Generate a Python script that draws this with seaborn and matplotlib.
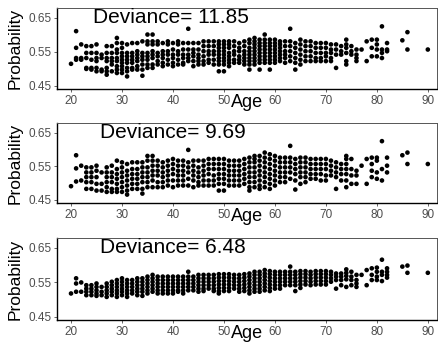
import matplotlib
matplotlib.use("Agg")
import matplotlib.pyplot as plt
import seaborn as sns
import pandas as pd

# ---- data -------------------------------------------------------------
ages = list(range(20, 83)) + [85, 86, 90]

deviances = ["11.85", "9.69", "6.48"]
x_ticks = [20, 30, 40, 50, 60, 70, 80, 90]
y_ticks = [0.45, 0.55, 0.65]
y_tick_labels = ["0.45", "0.55", "0.65"]

# predicted probabilities per age (one inner list per age), model 1
prob_model1 = [
    [0.515],                                                         # 20
    [0.611, 0.562, 0.532, 0.527],                                    # 21
    [0.572, 0.532, 0.527],                                           # 22
    [0.567, 0.547, 0.532, 0.503, 0.500],                             # 23
    [0.567, 0.547, 0.527, 0.503, 0.498],                             # 24
    [0.572, 0.547, 0.532, 0.523, 0.503, 0.493],                      # 25
    [0.542, 0.532, 0.498, 0.493],                                    # 26
    [0.567, 0.547, 0.532, 0.523, 0.503, 0.493, 0.483],               # 27
    [0.567, 0.547, 0.532, 0.523, 0.513, 0.493],                      # 28
    [0.591, 0.576, 0.557, 0.547, 0.532, 0.523, 0.508, 0.498, 0.488], # 29
    [0.576, 0.562, 0.547, 0.537, 0.527, 0.518, 0.508, 0.498, 0.488], # 30
    [0.572, 0.547, 0.537, 0.527, 0.518, 0.503, 0.493, 0.478],        # 31
    [0.576, 0.547, 0.537, 0.527, 0.518, 0.503, 0.498],               # 32
    [0.576, 0.552, 0.542, 0.532, 0.523, 0.508, 0.498],               # 33
    [0.581, 0.547, 0.537, 0.527, 0.513, 0.498, 0.480],               # 34
    [0.601, 0.581, 0.572, 0.547, 0.537, 0.527, 0.513, 0.503],        # 35
    [0.601, 0.581, 0.572, 0.552, 0.542, 0.532, 0.513, 0.503],        # 36
    [0.581, 0.572, 0.547, 0.537, 0.523, 0.513],                      # 37
    [0.576, 0.552, 0.542, 0.532, 0.518, 0.508],                      # 38
    [0.581, 0.572, 0.552, 0.542, 0.527, 0.513],                      # 39
    [0.576, 0.557, 0.542, 0.532, 0.518, 0.508],                      # 40
    [0.581, 0.572, 0.552, 0.542, 0.527, 0.513],                      # 41
    [0.576, 0.557, 0.542, 0.532, 0.518, 0.513],                      # 42
    [0.618, 0.576, 0.557, 0.542, 0.532, 0.523],                      # 43
    [0.576, 0.557, 0.547, 0.537, 0.523, 0.508],                      # 44
    [0.576, 0.557, 0.542, 0.532, 0.523, 0.513],                      # 45
    [0.581, 0.567, 0.552, 0.537, 0.523, 0.513],                      # 46
    [0.581, 0.567, 0.552, 0.542, 0.527, 0.518],                      # 47
    [0.581, 0.567, 0.552, 0.542, 0.527, 0.513],                      # 48
    [0.581, 0.572, 0.562, 0.552, 0.542, 0.532, 0.523, 0.513, 0.493], # 49
    [0.581, 0.572, 0.562, 0.552, 0.542, 0.532, 0.523, 0.513, 0.493], # 50
    [0.581, 0.572, 0.562, 0.547, 0.537, 0.527, 0.518, 0.508],        # 51
    [0.581, 0.567, 0.552, 0.542, 0.527, 0.518],                      # 52
    [0.576, 0.562, 0.552, 0.537, 0.527, 0.518],                      # 53
    [0.581, 0.567, 0.552, 0.542, 0.532, 0.523, 0.513],               # 54
    [0.586, 0.576, 0.562, 0.552, 0.542, 0.532, 0.523, 0.513, 0.498], # 55
    [0.591, 0.581, 0.572, 0.562, 0.552, 0.542, 0.532, 0.523, 0.513], # 56
    [0.586, 0.576, 0.567, 0.557, 0.547, 0.537, 0.527, 0.518, 0.498], # 57
    [0.601, 0.586, 0.576, 0.567, 0.557, 0.547, 0.537, 0.527, 0.518], # 58
    [0.586, 0.576, 0.567, 0.557, 0.547, 0.537, 0.527, 0.518, 0.498], # 59
    [0.586, 0.576, 0.567, 0.557, 0.547, 0.537, 0.527, 0.518],        # 60
    [0.581, 0.572, 0.562, 0.552, 0.542, 0.532, 0.523],               # 61
    [0.581, 0.567, 0.552, 0.542, 0.532, 0.518],                      # 62
    [0.618, 0.581, 0.567, 0.552, 0.537, 0.523],                      # 63
    [0.576, 0.562, 0.547, 0.532, 0.518, 0.498],                      # 64
    [0.586, 0.572, 0.557, 0.542, 0.527, 0.513],                      # 65
    [0.581, 0.567, 0.552, 0.537, 0.523],                             # 66
    [0.581, 0.567, 0.552, 0.537, 0.523],                             # 67
    [0.576, 0.562, 0.547, 0.532, 0.523],                             # 68
    [0.576, 0.562, 0.547, 0.532, 0.523],                             # 69
    [0.576, 0.562, 0.547, 0.537, 0.523],                             # 70
    [0.572, 0.557, 0.547, 0.532, 0.523],                             # 71
    [0.572, 0.557, 0.542, 0.503],                                    # 72
    [0.567, 0.552, 0.542],                                           # 73
    [0.586, 0.572, 0.562, 0.547, 0.523, 0.513],                      # 74
    [0.567, 0.552, 0.542],                                           # 75
    [0.557, 0.542, 0.532, 0.523],                                    # 76
    [0.557],                                                         # 77
    [0.581, 0.523],                                                  # 78
    [0.586, 0.562, 0.537],                                           # 79
    [0.586, 0.572, 0.557, 0.537],                                    # 80
    [0.625, 0.557, 0.547, 0.532],                                    # 81
    [0.576, 0.557, 0.552],                                           # 82
    [0.584],                                                         # 85
    [0.608, 0.557],                                                  # 86
    [0.557],                                                         # 90
]

# model 2
prob_model2 = [
    [0.491],                                                         # 20
    [0.583, 0.544, 0.505],                                           # 21
    [0.552, 0.508],                                                  # 22
    [0.547, 0.532, 0.518, 0.503, 0.483],                             # 23
    [0.547, 0.532, 0.518, 0.503, 0.483],                             # 24
    [0.552, 0.537, 0.518, 0.498, 0.478],                             # 25
    [0.532, 0.498, 0.478],                                           # 26
    [0.547, 0.532, 0.518, 0.503, 0.488, 0.474],                      # 27
    [0.552, 0.532, 0.518, 0.503, 0.483, 0.474],                      # 28
    [0.567, 0.542, 0.527, 0.513, 0.498, 0.483, 0.474],               # 29
    [0.562, 0.547, 0.532, 0.518, 0.503, 0.488, 0.474],               # 30
    [0.557, 0.537, 0.523, 0.508, 0.493, 0.478, 0.466],               # 31
    [0.562, 0.542, 0.527, 0.513, 0.498, 0.483],                      # 32
    [0.562, 0.542, 0.527, 0.513, 0.498, 0.483],                      # 33
    [0.562, 0.547, 0.532, 0.518, 0.503, 0.483, 0.469],               # 34
    [0.581, 0.567, 0.547, 0.532, 0.518, 0.503, 0.488],               # 35
    [0.581, 0.567, 0.552, 0.537, 0.523, 0.508, 0.488],               # 36
    [0.567, 0.552, 0.537, 0.523, 0.503, 0.488],                      # 37
    [0.562, 0.547, 0.532, 0.518, 0.503, 0.488],                      # 38
    [0.567, 0.552, 0.537, 0.523, 0.508, 0.493],                      # 39
    [0.572, 0.557, 0.542, 0.527, 0.508, 0.488],                      # 40
    [0.567, 0.552, 0.537, 0.523, 0.508, 0.493],                      # 41
    [0.567, 0.552, 0.537, 0.523, 0.508, 0.493],                      # 42
    [0.599, 0.562, 0.547, 0.532, 0.513, 0.493],                      # 43
    [0.567, 0.552, 0.537, 0.523, 0.508, 0.488],                      # 44
    [0.567, 0.547, 0.532, 0.518, 0.503, 0.493],                      # 45
    [0.567, 0.552, 0.537, 0.523, 0.508, 0.493],                      # 46
    [0.572, 0.557, 0.542, 0.527, 0.508, 0.493],                      # 47
    [0.572, 0.557, 0.542, 0.523, 0.508, 0.493],                      # 48
    [0.572, 0.557, 0.542, 0.527, 0.513, 0.498, 0.478],               # 49
    [0.572, 0.557, 0.542, 0.527, 0.513, 0.498, 0.478],               # 50
    [0.567, 0.552, 0.537, 0.523, 0.508, 0.493],                      # 51
    [0.567, 0.552, 0.537, 0.523, 0.508, 0.493],                      # 52
    [0.567, 0.552, 0.537, 0.523, 0.508, 0.493],                      # 53
    [0.572, 0.557, 0.542, 0.527, 0.513, 0.498],                      # 54
    [0.576, 0.562, 0.547, 0.532, 0.518, 0.503, 0.488, 0.478],        # 55
    [0.581, 0.572, 0.562, 0.547, 0.532, 0.518, 0.503, 0.488],        # 56
    [0.581, 0.567, 0.552, 0.537, 0.523, 0.508, 0.493, 0.483],        # 57
    [0.591, 0.576, 0.562, 0.547, 0.532, 0.518, 0.503, 0.488],        # 58
    [0.586, 0.572, 0.557, 0.542, 0.527, 0.513, 0.498, 0.483],        # 59
    [0.581, 0.567, 0.552, 0.537, 0.523, 0.508, 0.493],               # 60
    [0.576, 0.562, 0.547, 0.532, 0.518, 0.503],                      # 61
    [0.576, 0.562, 0.547, 0.532, 0.518, 0.503],                      # 62
    [0.611, 0.576, 0.562, 0.547, 0.532, 0.513],                      # 63
    [0.572, 0.557, 0.542, 0.527, 0.508, 0.481],                      # 64
    [0.576, 0.562, 0.547, 0.532, 0.518, 0.498],                      # 65
    [0.576, 0.562, 0.547, 0.532, 0.518, 0.503],                      # 66
    [0.572, 0.557, 0.542, 0.527, 0.513],                             # 67
    [0.572, 0.557, 0.542, 0.527, 0.513],                             # 68
    [0.572, 0.557, 0.542, 0.527, 0.508],                             # 69
    [0.572, 0.557, 0.542, 0.523, 0.508],                             # 70
    [0.567, 0.552, 0.537, 0.523],                                    # 71
    [0.562, 0.547, 0.532, 0.518, 0.483],                             # 72
    [0.557, 0.542, 0.527, 0.508],                                    # 73
    [0.581, 0.572, 0.557, 0.542, 0.527, 0.508, 0.488],               # 74
    [0.572, 0.542, 0.523, 0.498],                                    # 75
    [0.537, 0.523, 0.498],                                           # 76
    [0.552],                                                         # 77
    [0.572, 0.498],                                                  # 78
    [0.576, 0.557, 0.537, 0.518],                                    # 79
    [0.576, 0.567, 0.532, 0.513],                                    # 80
    [0.625, 0.542, 0.508],                                           # 81
    [0.576, 0.552, 0.532],                                           # 82
    [0.583],                                                         # 85
    [0.591, 0.557],                                                  # 86
    [0.557],                                                         # 90
]

# model 3
prob_model3 = [
    [0.518],                                                         # 20
    [0.562, 0.547, 0.523],                                           # 21
    [0.550, 0.523],                                                  # 22
    [0.542, 0.532, 0.523, 0.513],                                    # 23
    [0.542, 0.532, 0.523, 0.513],                                    # 24
    [0.547, 0.537, 0.527, 0.518, 0.511],                             # 25
    [0.537, 0.523, 0.513],                                           # 26
    [0.547, 0.537, 0.527, 0.518, 0.508],                             # 27
    [0.552, 0.542, 0.532, 0.523, 0.513],                             # 28
    [0.557, 0.547, 0.537, 0.527, 0.518, 0.508],                      # 29
    [0.562, 0.552, 0.542, 0.532, 0.523, 0.513],                      # 30
    [0.557, 0.547, 0.537, 0.527, 0.518, 0.508],                      # 31
    [0.557, 0.547, 0.537, 0.527, 0.518],                             # 32
    [0.562, 0.552, 0.542, 0.532, 0.523, 0.513],                      # 33
    [0.562, 0.552, 0.542, 0.532, 0.523, 0.511],                      # 34
    [0.567, 0.557, 0.547, 0.537, 0.527, 0.518],                      # 35
    [0.572, 0.562, 0.552, 0.542, 0.532, 0.523],                      # 36
    [0.567, 0.557, 0.547, 0.537, 0.527, 0.518],                      # 37
    [0.567, 0.557, 0.547, 0.537, 0.527, 0.518],                      # 38
    [0.567, 0.557, 0.547, 0.537, 0.527, 0.518],                      # 39
    [0.567, 0.557, 0.547, 0.537, 0.527, 0.518],                      # 40
    [0.567, 0.557, 0.547, 0.537, 0.527, 0.523],                      # 41
    [0.567, 0.557, 0.547, 0.537, 0.527, 0.518],                      # 42
    [0.581, 0.567, 0.557, 0.547, 0.537, 0.527],                      # 43
    [0.567, 0.557, 0.547, 0.537, 0.527],                             # 44
    [0.572, 0.562, 0.552, 0.542, 0.532, 0.523],                      # 45
    [0.572, 0.562, 0.552, 0.542, 0.532, 0.525],                      # 46
    [0.572, 0.562, 0.552, 0.542, 0.532],                             # 47
    [0.572, 0.562, 0.552, 0.542, 0.532, 0.525],                      # 48
    [0.574, 0.564, 0.554, 0.544, 0.534, 0.525, 0.518],               # 49
    [0.574, 0.564, 0.554, 0.544, 0.534, 0.525],                      # 50
    [0.574, 0.564, 0.554, 0.544, 0.534, 0.525],                      # 51
    [0.572, 0.562, 0.552, 0.542, 0.532],                             # 52
    [0.572, 0.562, 0.552, 0.542, 0.532, 0.523],                      # 53
    [0.574, 0.564, 0.554, 0.544, 0.534, 0.525],                      # 54
    [0.576, 0.567, 0.557, 0.547, 0.537, 0.527, 0.518],               # 55
    [0.581, 0.572, 0.562, 0.552, 0.542, 0.532, 0.523],               # 56
    [0.581, 0.572, 0.562, 0.552, 0.542, 0.532, 0.523],               # 57
    [0.586, 0.576, 0.567, 0.557, 0.547, 0.537, 0.527],               # 58
    [0.583, 0.574, 0.564, 0.554, 0.544, 0.534, 0.525],               # 59
    [0.581, 0.572, 0.562, 0.552, 0.542, 0.532],                      # 60
    [0.581, 0.572, 0.562, 0.552, 0.542, 0.532],                      # 61
    [0.581, 0.572, 0.562, 0.552, 0.542],                             # 62
    [0.596, 0.581, 0.572, 0.562, 0.552, 0.542],                      # 63
    [0.581, 0.572, 0.562, 0.552, 0.542, 0.525],                      # 64
    [0.583, 0.574, 0.564, 0.554, 0.544, 0.534],                      # 65
    [0.583, 0.574, 0.564, 0.554, 0.544],                             # 66
    [0.581, 0.572, 0.562, 0.552, 0.542],                             # 67
    [0.583, 0.574, 0.564, 0.554, 0.544],                             # 68
    [0.583, 0.574, 0.564, 0.554, 0.544],                             # 69
    [0.583, 0.574, 0.564, 0.554, 0.544],                             # 70
    [0.581, 0.572, 0.562, 0.552],                                    # 71
    [0.576, 0.567, 0.557, 0.532],                                    # 72
    [0.576, 0.567, 0.557, 0.542],                                    # 73
    [0.588, 0.578, 0.569, 0.559, 0.537],                             # 74
    [0.581, 0.567, 0.557, 0.542],                                    # 75
    [0.572, 0.557, 0.547, 0.537],                                    # 76
    [0.572],                                                         # 77
    [0.586, 0.542],                                                  # 78
    [0.591, 0.572, 0.557],                                           # 79
    [0.593, 0.581, 0.567, 0.557],                                    # 80
    [0.616, 0.581, 0.572, 0.554],                                    # 81
    [0.591, 0.581, 0.572, 0.564],                                    # 82
    [0.596],                                                         # 85
    [0.599, 0.578],                                                  # 86
    [0.578],                                                         # 90
]

# ---- build long tables ---------------------------------------------------
def to_frame(prob_lists):
    rows = []
    for age, vals in zip(ages, prob_lists):
        for v in vals:
            rows.append((age, v))
    return pd.DataFrame(rows, columns=["Age", "Probability"])

frames = [to_frame(p) for p in (prob_model1, prob_model2, prob_model3)]

# ---- plot -----------------------------------------------------------------
sns.set_style("ticks")
plt.rcParams["font.family"] = ["Liberation Sans", "DejaVu Sans"]

W, H = 438, 345
fig = plt.figure(figsize=(W / 100, H / 100), dpi=100)

# panel boxes in pixels: (top, bottom)
panel_px = [(8, 89), (123, 203), (238, 320)]
left_px, right_px = 57, 437
dev_x = [0.095, 0.113, 0.113]

for i, (df, (top, bot)) in enumerate(zip(frames, panel_px)):
    ax = fig.add_axes([left_px / W, 1 - bot / H, (right_px - left_px) / W, (bot - top) / H])
    sns.scatterplot(data=df, x="Age", y="Probability", ax=ax, color="black",
                    s=11, linewidth=0, edgecolor="none", legend=False)
    ax.set_xlim(17.25, 91.8)
    ax.set_ylim(0.441, 0.679)
    ax.set_xticks(x_ticks)
    ax.set_xticklabels([str(t) for t in x_ticks])
    ax.set_yticks(y_ticks)
    ax.set_yticklabels(y_tick_labels)
    ax.tick_params(axis="both", labelsize=8.5, length=2.5, width=0.6,
                   colors="#4D4D4D", pad=1.5)
    for side in ("left", "bottom"):
        ax.spines[side].set_color("black")
        ax.spines[side].set_linewidth(1.0)
    for side in ("top", "right"):
        ax.spines[side].set_color("#555555")
        ax.spines[side].set_linewidth(0.7)
    ax.set_xlabel("Age", fontsize=13, color="black")
    ax.set_ylabel("Probability", fontsize=12.5, color="black")
    ax.xaxis.set_label_coords(0.5, -0.06)
    ax.yaxis.set_label_coords(-0.09, 0.5)
    ax.text(dev_x[i], 0.88, "Deviance= " + deviances[i], transform=ax.transAxes,
            fontsize=15, ha="left", va="center", color="black")

fig.savefig("out.png", dpi=100)
